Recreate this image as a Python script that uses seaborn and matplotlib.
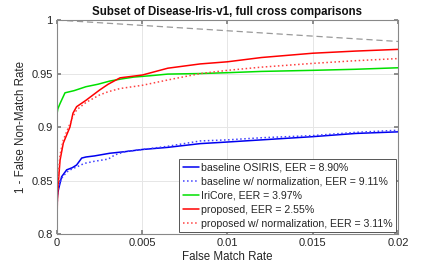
import matplotlib
matplotlib.use("Agg")
import matplotlib.pyplot as plt
import seaborn as sns
import pandas as pd
import numpy as np

title = "Subset of Disease-Iris-v1, full cross comparisons"
xlabel = "False Match Rate"
ylabel = "1 - False Non-Match Rate"

chance_fmr = [0.0, 0.02]
chance_tmr = [1.0, 0.98]

base_fmr = [0.0, 0.00002, 0.00008, 0.00027, 0.00057, 0.0009, 0.00115, 0.00145, 0.0017, 0.0022, 0.0031, 0.004, 0.005, 0.0065, 0.0084, 0.01, 0.012, 0.015, 0.0175, 0.02]
base_tmr = [0.80, 0.835, 0.841, 0.8535, 0.860, 0.862, 0.8645, 0.871, 0.872, 0.873, 0.8755, 0.877, 0.879, 0.881, 0.8845, 0.886, 0.888, 0.891, 0.894, 0.8955]

basen_fmr = [0.0, 0.00002, 0.00008, 0.00027, 0.00057, 0.0009, 0.0012, 0.0016, 0.0022, 0.003, 0.0034, 0.004, 0.005, 0.0065, 0.0084, 0.01, 0.012, 0.015, 0.0175, 0.02]
basen_tmr = [0.80, 0.838, 0.844, 0.852, 0.858, 0.861, 0.863, 0.866, 0.868, 0.870, 0.874, 0.877, 0.879, 0.882, 0.887, 0.888, 0.890, 0.892, 0.895, 0.897]

iri_fmr = [0.0, 0.0, 0.00005, 0.00018, 0.00047, 0.001, 0.0017, 0.0024, 0.0031, 0.0038, 0.0045, 0.0055, 0.0065, 0.0084, 0.01, 0.012, 0.015, 0.0175, 0.02]
iri_tmr = [0.80, 0.912, 0.917, 0.922, 0.932, 0.934, 0.9377, 0.940, 0.943, 0.945, 0.9467, 0.948, 0.9495, 0.950, 0.9508, 0.952, 0.953, 0.954, 0.9554]

prop_fmr = [0.0, 0.00002, 0.00008, 0.00018, 0.00037, 0.00076, 0.00094, 0.00115, 0.0017, 0.0025, 0.003, 0.0037, 0.005, 0.0065, 0.0084, 0.01, 0.012, 0.015, 0.0175, 0.02]
prop_tmr = [0.80, 0.83, 0.848, 0.869, 0.885, 0.900, 0.913, 0.919, 0.925, 0.9346, 0.940, 0.946, 0.9486, 0.955, 0.959, 0.961, 0.965, 0.969, 0.971, 0.9726]

propn_fmr = [0.0, 0.00002, 0.00008, 0.00018, 0.00037, 0.00076, 0.00094, 0.00115, 0.0017, 0.0025, 0.003, 0.0037, 0.005, 0.0065, 0.0084, 0.01, 0.012, 0.015, 0.0175, 0.02]
propn_tmr = [0.80, 0.835, 0.855, 0.874, 0.888, 0.903, 0.910, 0.916, 0.923, 0.930, 0.933, 0.936, 0.939, 0.944, 0.950, 0.953, 0.956, 0.9595, 0.962, 0.964]

labels = ["baseline OSIRIS, EER = 8.90%",
          "baseline w/ normalization, EER = 9.11%",
          "IriCore, EER = 3.97%",
          "proposed, EER = 2.55%",
          "proposed w/ normalization, EER = 3.11%"]
colors = ["#0000f0", "#4040ff", "#00e000", "#ff0000", "#ff4040"]
styles = ["-", ":", "-", "-", ":"]

xticks = [0, 0.005, 0.01, 0.015, 0.02]
xticklabels = ["0", "0.005", "0.01", "0.015", "0.02"]
yticks = [0.8, 0.85, 0.9, 0.95, 1.0]
yticklabels = ["0.8", "0.85", "0.9", "0.95", "1"]

sns.set_theme(style="whitegrid")
plt.rcParams['font.family'] = ['Liberation Sans', 'DejaVu Sans']

fig = plt.figure(figsize=(4.4, 2.64), dpi=100)
ax = fig.add_axes([0.1295, 0.1136, 0.775, 0.8104])

series = [(base_fmr, base_tmr), (basen_fmr, basen_tmr), (iri_fmr, iri_tmr),
          (prop_fmr, prop_tmr), (propn_fmr, propn_tmr)]

df_ch = pd.DataFrame({"x": chance_fmr, "y": chance_tmr})
sns.lineplot(data=df_ch, x="x", y="y", ax=ax, color="#999999", linestyle=(0, (5, 3)),
             linewidth=0.9, estimator=None, sort=False, legend=False)

for (fx, fy), lab, c, ls in zip(series, labels, colors, styles):
    df = pd.DataFrame({"x": fx, "y": fy})
    sns.lineplot(data=df, x="x", y="y", ax=ax, color=c, linestyle=ls,
                 linewidth=1.1, estimator=None, sort=False, label=lab)

ax.set_xlim(0, 0.02)
ax.set_ylim(0.8, 1.0)
ax.set_xticks(xticks)
ax.set_xticklabels(xticklabels)
ax.set_yticks(yticks)
ax.set_yticklabels(yticklabels)
ax.tick_params(axis="both", labelsize=8, colors="#262626", direction="in", length=3,
               pad=3, bottom=True, left=True, top=True, right=True, color="#808080")
ax.grid(True, color="#e6e6e6", linewidth=0.7)
for s in ax.spines.values():
    s.set_color("#888888")
    s.set_linewidth(0.8)
ax.set_xlabel(xlabel, fontsize=8.3, color="#262626", labelpad=2)
ax.set_ylabel(ylabel, fontsize=8.3, color="#262626", labelpad=3)
ax.set_title(title, fontsize=8.3, fontweight="bold", color="#111111", pad=4)

leg = ax.legend(loc="lower right", fontsize=7.6, frameon=True, fancybox=False,
                borderaxespad=0.15, handlelength=1.5, handletextpad=0.2,
                labelspacing=0.38, borderpad=0.35)
leg.get_frame().set_edgecolor("#555555")
leg.get_frame().set_linewidth(0.7)
leg.get_frame().set_alpha(1.0)

fig.savefig("out.png", dpi=100)
